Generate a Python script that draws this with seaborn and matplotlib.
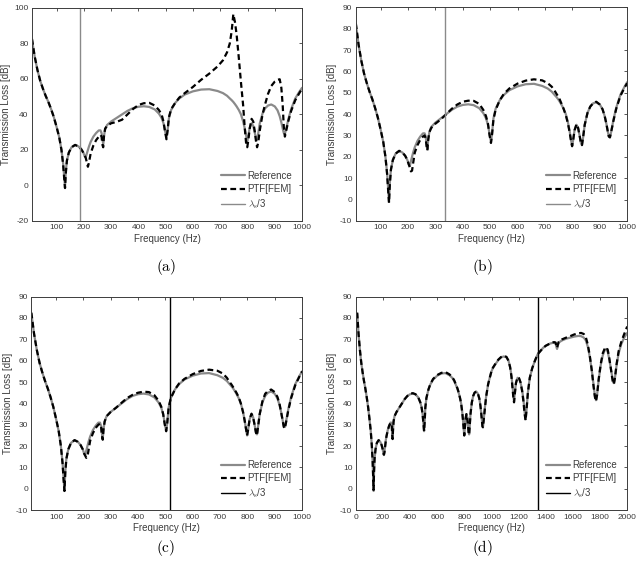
import matplotlib
matplotlib.use("Agg")
import matplotlib.pyplot as plt
import pandas as pd
import seaborn as sns

# ---------------- data ----------------
freq_lo = [10, 20, 30, 40, 50, 60, 70, 80, 90, 100,
           110, 118, 124, 128, 131, 134, 138, 145, 155, 168,
           180, 190, 198, 203, 207, 211, 215, 219, 225, 235,
           245, 255, 261, 265, 268, 271, 274, 278, 285, 300,
           320, 340, 360, 380, 400, 420, 440, 460, 475, 485,
           492, 498, 503, 507, 512, 520, 535, 550, 570, 600,
           630, 660, 690, 710, 725, 735, 742, 748, 754, 760,
           768, 776, 784, 790, 795, 799, 803, 808, 815, 821,
           827, 831, 835, 839, 845, 855, 865, 875, 887, 900,
           910, 918, 924, 929, 933, 937, 942, 950, 960, 975,
           990, 1000]

ref_lo = [82, 72.5, 65, 59, 54.5, 50.5, 47, 43, 38.5, 33,
          27, 20, 12.5, 5, -1, 8, 14, 18.5, 21.5, 22.8,
          22, 20.5, 18.5, 16.5, 15.8, 18, 20, 22, 24.5, 27.5,
          29.5, 31, 31, 29.5, 26, 23.5, 28, 31.5, 34, 36,
          38, 40, 42, 43.5, 44.3, 44.6, 44.2, 42.8, 40.5, 38,
          35, 30.5, 27, 31, 38, 42.5, 46.5, 49, 51.2, 53,
          54, 54.2, 53.2, 52, 50.5, 49, 48, 47, 45.8, 44.5,
          42.5, 40, 36, 32, 28, 25, 28, 32.5, 35, 33.5,
          29.5, 26.5, 25.5, 29, 35, 40.5, 43.5, 45, 45.6, 44.5,
          42.3, 39, 35.5, 32, 29.5, 29, 32, 37.5, 43, 49,
          52.8, 55]

ptf_a = [82.5, 72.5, 65, 59, 54.5, 50.5, 47, 43, 38.5, 33,
         27, 20, 12, 4, -1.5, 7, 14, 18.5, 21.5, 22.8,
         22, 20.5, 18.5, 16.8, 15.5, 13, 10.5, 13, 18, 22.5,
         25.5, 27.5, 28.5, 27.5, 23, 21.5, 28, 32, 33.5, 35,
         35.8, 37, 40, 43, 45.3, 46.3, 46.5, 45, 42.5, 40,
         36, 30, 26, 31, 38.5, 43, 46.5, 49.5, 52, 55.5,
         59.5, 63, 67, 70.5, 75, 80, 87, 96.5, 92, 85,
         72, 58, 45, 32, 23.5, 21.5, 25.5, 32, 37.5, 36,
         30, 25, 21.5, 24, 31, 40, 46, 51.5, 56, 58.5,
         59.5, 59.8, 55, 45, 33, 27.5, 31, 36.5, 42, 48,
         52, 54.5]

ptf_b = [82.5, 72.5, 65, 59, 54.5, 50.5, 47, 43, 38.5, 33,
         27, 20, 12, 4, -1.5, 7, 14, 18.5, 21.5, 22.8,
         22, 20.5, 18.5, 16.5, 15, 13.2, 13.5, 17, 22, 25.5,
         28, 29.5, 30, 28.5, 25, 23, 28, 31.5, 33.5, 35.5,
         37.5, 40, 42.5, 44.5, 45.8, 46.3, 46.2, 44.8, 42, 39,
         35.5, 30, 26.5, 30.5, 37.5, 42, 46.5, 49.5, 52, 54.3,
         55.7, 56.3, 55.8, 54.5, 52.8, 51, 49.5, 48.3, 46.8, 45,
         42.5, 39.5, 35.5, 31.5, 27.5, 25, 28, 32.5, 35.3, 33.5,
         29.5, 26.5, 25.5, 29, 35, 40.5, 43.5, 45, 45.8, 44.5,
         42.3, 39, 35.5, 32, 29.5, 29.2, 32, 37, 42.5, 48.5,
         52.3, 54.5]

ptf_c = [82.5, 72.5, 65, 59, 54.5, 50.5, 47, 43, 38.5, 33,
         27, 20, 12, 4, -1, 7.5, 14, 18.5, 21.5, 22.8,
         22, 20.5, 18.5, 16.5, 15.5, 14.5, 15, 18, 22.5, 26,
         28.5, 30, 30.5, 29, 25, 23, 28, 31.5, 34, 36,
         38, 40.3, 42.5, 44, 45, 45.5, 45.3, 43.8, 41.3, 38.5,
         35, 30, 27, 31, 38, 42.5, 46.5, 49.3, 51.5, 53.7,
         55.2, 55.8, 55.3, 54, 52, 50, 48.8, 47.6, 46.3, 45,
         43, 40, 36, 32, 28, 25, 28, 32.5, 35.2, 33.5,
         29.5, 26.5, 25, 29, 35, 41, 44.5, 45.8, 46.5, 45.3,
         43, 39.5, 35.5, 32, 29, 28.2, 31.5, 37, 42.5, 48.5,
         52.5, 55]

ptf_d_lo = [82.5, 72.5, 65, 59, 54.5, 50.5, 47, 43, 38.5, 33,
            27, 20, 12.5, 4.5, -0.5, 8, 14, 18.5, 21.5, 22.8,
            22, 20.5, 18.5, 16.8, 16, 17, 19.5, 21.5, 24.3, 27.3,
            29.5, 30.8, 30.8, 29.3, 25.5, 23.3, 27.5, 31.5, 34, 36,
            38, 40, 42, 43.5, 44.5, 44.8, 44.3, 42.8, 40.5, 38,
            35, 30.5, 27, 31, 38, 42.5, 46.5, 49.2, 51.5, 53.3,
            54.3, 54.7, 53.6, 52.4, 50.8, 49.2, 48.2, 47.2, 46, 44.6,
            42.5, 40, 36, 32, 28, 25, 28, 32.5, 35, 33.5,
            29.5, 26.5, 25.3, 29, 35, 40.5, 43.5, 45, 45.6, 44.5,
            42.3, 39, 35.5, 32, 29.2, 28.8, 32, 37.5, 43, 49,
            52.8, 55.2]

freq_hi = [1010, 1030, 1050, 1070, 1090, 1110, 1125, 1137, 1147, 1155,
           1162, 1166, 1171, 1180, 1192, 1203, 1213, 1225, 1235, 1244,
           1251, 1258, 1268, 1282, 1300, 1320, 1340, 1360, 1380, 1400,
           1430, 1460, 1472, 1478, 1483, 1488, 1495, 1520, 1550, 1580,
           1610, 1640, 1660, 1680, 1695, 1710, 1725, 1740, 1752, 1762,
           1770, 1778, 1790, 1805, 1820, 1835, 1847, 1857, 1867, 1878,
           1888, 1896, 1902, 1910, 1922, 1937, 1955, 1975, 2000]

ref_hi = [56.5, 58.5, 60.3, 61.5, 62, 61.6, 60, 57, 53, 48,
          43, 41, 44.5, 49.5, 52, 51.5, 50, 46.5, 42, 36,
          32.5, 37, 45, 52, 56.5, 60, 63, 64.5, 66, 67,
          68, 68.5, 68.3, 66.5, 65.5, 67, 68.5, 69.5, 70.3, 70.8,
          71.3, 71.6, 71.5, 70.8, 69.5, 66.5, 61.5, 55, 48.5, 43.5,
          41.5, 44, 51, 58, 62.5, 65, 65.5, 64, 61, 57,
          53, 50, 49.5, 52, 58, 63.5, 67.5, 70.5, 73]

ptf_d_hi = [56.7, 58.7, 60.5, 61.7, 62.3, 61.8, 60, 57, 52.5, 47,
            42, 40.5, 44, 49.5, 52.3, 51.8, 50, 46, 41, 35,
            32, 37, 45, 52, 56.5, 60, 63, 64.5, 66, 67,
            68, 68.7, 68.5, 66.8, 66, 67.3, 68.8, 70, 70.8, 71.5,
            72.3, 72.8, 73, 72.5, 71, 67.5, 62, 55, 48, 43,
            41, 44, 51.5, 58.5, 63.5, 65.8, 66.3, 65, 61.5, 57,
            52.5, 49.5, 49, 52, 58.5, 64.5, 68.5, 72, 76]

lambda_s3 = [187, 335, 518, 1340]          # Hz, vertical marker per panel
panel_labels = ["(a)", "(b)", "(c)", "(d)"]
legend_labels = ["Reference", "PTF[FEM]", r"$\lambda_{\rm s}$/3"]
xlims = [(10, 1000), (10, 1000), (10, 1000), (0, 2000)]
xticks_lo = [100, 200, 300, 400, 500, 600, 700, 800, 900, 1000]
xticks_hi = [0, 200, 400, 600, 800, 1000, 1200, 1400, 1600, 1800, 2000]
yticks_a = [-20, 0, 20, 40, 60, 80, 100]
yticks_b = [-10, 0, 10, 20, 30, 40, 50, 60, 70, 80, 90]

# ---------------- style ----------------
sns.set_theme(style="white")
plt.rcParams["font.family"] = ["Liberation Sans", "DejaVu Sans"]
plt.rcParams["mathtext.fontset"] = "cm"
plt.rcParams["axes.unicode_minus"] = False

GRAY = "#8a8a8a"
AXC = "#3c3c3c"

fig = plt.figure(figsize=(6.4, 5.65), dpi=100)
positions = [
    [0.050, 0.609, 0.422, 0.377],
    [0.556, 0.609, 0.424, 0.378],
    [0.049, 0.097, 0.423, 0.378],
    [0.556, 0.097, 0.424, 0.378],
]
vline_colors = [GRAY, GRAY, "black", "black"]
label_xy = [(0.259, 1 - 267 / 565), (0.754, 1 - 267 / 565),
            (0.259, 1 - 548 / 565), (0.754, 1 - 548 / 565)]

panels = [
    (freq_lo, ref_lo, ptf_a),
    (freq_lo, ref_lo, ptf_b),
    (freq_lo, ref_lo, ptf_c),
    (freq_lo + freq_hi, ref_lo + ref_hi, ptf_d_lo + ptf_d_hi),
]

for i, (fr, rf, pt) in enumerate(panels):
    ax = fig.add_axes(positions[i])
    df = pd.DataFrame({"freq": fr, "ref": rf, "ptf": pt})
    sns.lineplot(data=df, x="freq", y="ref", ax=ax, color=GRAY, lw=1.6,
                 label=legend_labels[0])
    sns.lineplot(data=df, x="freq", y="ptf", ax=ax, color="black", lw=1.6,
                 dashes=False, label=legend_labels[1])
    ax.lines[-1].set_dashes((2.6, 1.6))
    ax.axvline(lambda_s3[i], color=vline_colors[i], lw=1.0,
               label=legend_labels[2])

    ax.set_xlim(*xlims[i])
    if i == 3:
        ax.set_xticks(xticks_hi)
    else:
        ax.set_xticks(xticks_lo)
    if i == 0:
        ax.set_ylim(-20, 100)
        ax.set_yticks(yticks_a)
    else:
        ax.set_ylim(-10, 90)
        ax.set_yticks(yticks_b)

    ax.set_xlabel("Frequency (Hz)", fontsize=7, color=AXC, labelpad=2)
    ax.set_ylabel("Transmission Loss [dB]", fontsize=7, color=AXC, labelpad=2)
    ax.tick_params(axis="both", which="both", direction="in", length=2.5,
                   width=0.6, colors=AXC, labelsize=6, top=True, right=True,
                   pad=2.5)
    for sp in ax.spines.values():
        sp.set_visible(True)
        sp.set_color(AXC)
        sp.set_linewidth(0.7)

    leg = ax.legend(loc="lower right", frameon=False, fontsize=7,
                    handlelength=2.4, handletextpad=0.3, labelspacing=0.35,
                    borderaxespad=0.6)
    for t in leg.get_texts():
        t.set_color(AXC)

    fig.text(label_xy[i][0], label_xy[i][1], r"$\mathrm{" + panel_labels[i] + "}$",
             ha="center", va="center", fontsize=11, color="black")

fig.savefig("out.png", dpi=100)
